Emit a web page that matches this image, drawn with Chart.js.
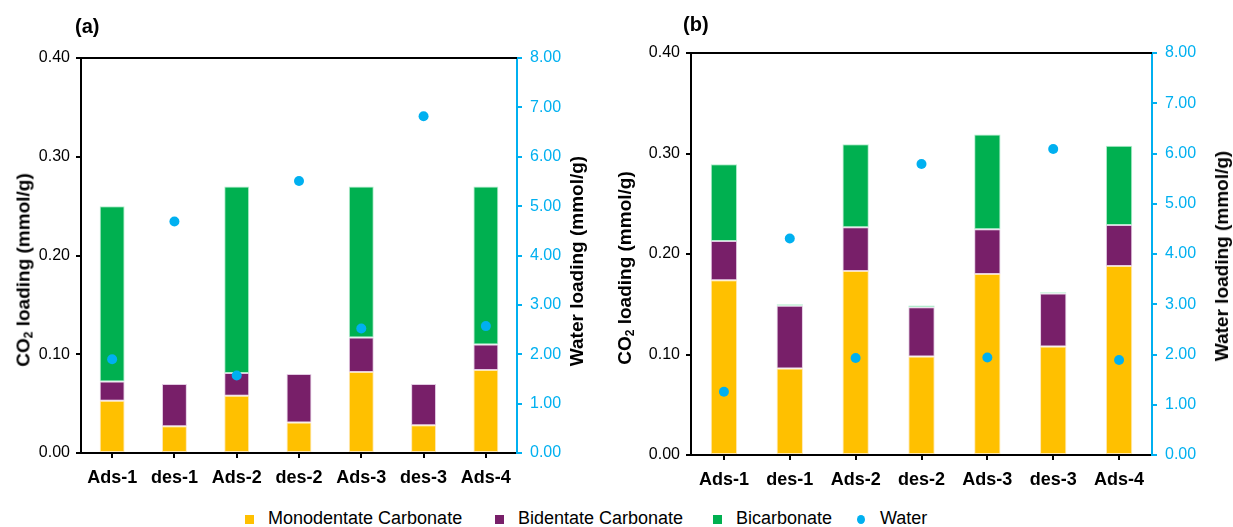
<!DOCTYPE html>
<html>
<head>
<meta charset="utf-8">
<script src="https://cdn.jsdelivr.net/npm/chart.js@4.4.0/dist/chart.umd.min.js"></script>
<style>
  html, body { margin: 0; padding: 0; background: #fff; }
  body { width: 1233px; height: 527px; position: relative; overflow: hidden; font-family: "Liberation Sans", Arial, sans-serif; }
  canvas { position: absolute; top: 0; }
  .lbl { position: absolute; font-weight: bold; color: #000; white-space: nowrap; }
  .rot { position: absolute; font-weight: bold; font-size: 19px; color: #000; white-space: nowrap; transform: translate(-50%, -50%) rotate(-90deg); }
  .rot sub { font-size: 12px; vertical-align: -3px; }
  #legend { position: absolute; top: 507px; left: 0; width: 1233px; height: 22px; font-size: 18px; color: #000; }
  .li { position: absolute; top: 0; line-height: 22px; white-space: nowrap; }
  .sw { position: absolute; width: 9px; height: 9px; top: 8px; }
</style>
</head>
<body>
<canvas id="ca" width="610" height="500" style="left:0;width:610px;height:500px"></canvas>
<canvas id="cb" width="623" height="500" style="left:610px;width:623px;height:500px"></canvas>

<div class="lbl" style="left:75px;top:15px;font-size:20px">(a)</div>
<div class="lbl" style="left:683px;top:13px;font-size:20px">(b)</div>

<div class="rot" style="left:24px;top:270px">CO<sub>2</sub> loading (mmol/g)</div>
<div class="rot" style="left:577px;top:261px">Water loading (mmol/g)</div>
<div class="rot" style="left:625px;top:268px">CO<sub>2</sub> loading (mmol/g)</div>
<div class="rot" style="left:1222px;top:256px">Water loading (mmol/g)</div>

<div id="legend"></div>

<script>
// ---- data ----
const categories = ['Ads-1', 'des-1', 'Ads-2', 'des-2', 'Ads-3', 'des-3', 'Ads-4'];

const a_mono   = [0.053, 0.027, 0.058, 0.031, 0.082, 0.028, 0.084];
const a_bi     = [0.0195, 0.043, 0.023, 0.049, 0.035, 0.042, 0.026];
const a_bicarb = [0.1775, 0, 0.189, 0, 0.153, 0, 0.160];
const a_water  = [1.90, 4.69, 1.57, 5.51, 2.52, 6.82, 2.57];

const b_mono   = [0.174, 0.086, 0.183, 0.098, 0.180, 0.108, 0.188];
const b_bi     = [0.039, 0.0625, 0.0436, 0.049, 0.0446, 0.0528, 0.0409];
const b_bicarb = [0.0764, 0.0015, 0.0827, 0.0018, 0.0944, 0.0012, 0.0787];
const b_water  = [1.26, 4.31, 1.93, 5.79, 1.94, 6.09, 1.89];

const seriesNames = ['Monodentate Carbonate', 'Bidentate Carbonate', 'Bicarbonate', 'Water'];
const leftTicks = [0, 0.1, 0.2, 0.3, 0.4];
const rightTicks = [0, 1, 2, 3, 4, 5, 6, 7, 8];

// ---- styles ----
const C_MONO = '#FFC000', C_BI = '#781F69', C_BIC = '#00B050', C_WAT = '#00B0F0';
const FONT = '"Liberation Sans", Arial, sans-serif';

const topBorder = {
  id: 'topBorder',
  afterDraw(chart) {
    const a = chart.chartArea, ctx = chart.ctx;
    ctx.save();
    ctx.strokeStyle = '#000';
    ctx.lineWidth = 2;
    ctx.beginPath();
    ctx.moveTo(a.left, a.top);
    ctx.lineTo(a.right, a.top);
    ctx.stroke();
    ctx.restore();
  }
};

function makeChart(id, mono, bi, bicarb, water, geo) {
  const bar = (label, data, color, edge) => ({
    type: 'bar', label, data, backgroundColor: color,
    borderColor: edge, borderWidth: 1, borderSkipped: false,
    barPercentage: 0.4, categoryPercentage: 1.0, yAxisID: 'y', order: 2
  });
  return new Chart(document.getElementById(id), {
    data: {
      labels: categories,
      datasets: [
        bar(seriesNames[0], mono, C_MONO, 'rgba(255,230,170,0.9)'),
        bar(seriesNames[1], bi, C_BI, 'rgba(220,190,220,0.8)'),
        bar(seriesNames[2], bicarb, C_BIC, 'rgba(170,235,200,0.9)'),
        {
          type: 'line', label: seriesNames[3], data: water, yAxisID: 'y2',
          showLine: false, pointRadius: 5, pointHoverRadius: 5,
          pointBackgroundColor: C_WAT, pointBorderColor: C_WAT, pointBorderWidth: 0,
          order: 0
        }
      ]
    },
    options: {
      responsive: false,
      animation: false,
      events: [],
      layout: { padding: { top: geo.top, left: 0, right: 0, bottom: 0 } },
      plugins: { legend: { display: false }, tooltip: { enabled: false }, title: { display: false } },
      scales: {
        x: {
          type: 'category', stacked: true, offset: true,
          grid: { display: true, drawOnChartArea: false, drawTicks: true, tickLength: 5, color: '#000', lineWidth: 2, offset: false },
          border: { display: true, color: '#000', width: 2 },
          ticks: { color: '#000', font: { family: FONT, size: 18, weight: 'bold' }, padding: 9, maxRotation: 0, autoSkip: false },
          afterFit: s => { s.height = geo.xh; }
        },
        y: {
          type: 'linear', position: 'left', stacked: true, min: 0, max: 0.4,
          afterBuildTicks: s => { s.ticks = leftTicks.map(v => ({ value: v })); },
          grid: { display: true, drawOnChartArea: false, drawTicks: true, tickLength: 5, color: '#000', lineWidth: 2 },
          border: { display: true, color: '#000', width: 2 },
          ticks: { color: '#000', font: { family: FONT, size: 16 }, padding: 6, callback: v => Number(v).toFixed(2) },
          afterFit: s => { s.width = geo.yw; }
        },
        y2: {
          type: 'linear', position: 'right', stacked: false, min: 0, max: 8,
          afterBuildTicks: s => { s.ticks = rightTicks.map(v => ({ value: v })); },
          grid: { display: true, drawOnChartArea: false, drawTicks: true, tickLength: 5, color: C_WAT, lineWidth: 2 },
          border: { display: true, color: C_WAT, width: 2 },
          ticks: { color: C_WAT, font: { family: FONT, size: 16 }, padding: 8, callback: v => Number(v).toFixed(2) },
          afterFit: s => { s.width = geo.y2w; }
        }
      }
    },
    plugins: [topBorder]
  });
}

makeChart('ca', a_mono, a_bi, a_bicarb, a_water, { top: 58, xh: 47, yw: 81, y2w: 93 });
makeChart('cb', b_mono, b_bi, b_bicarb, b_water, { top: 53, xh: 45, yw: 81, y2w: 81 });

// ---- HTML legend (real text) ----
const legendItems = [
  { name: seriesNames[0], color: C_MONO, x: 245, round: false },
  { name: seriesNames[1], color: C_BI, x: 495, round: false },
  { name: seriesNames[2], color: C_BIC, x: 713, round: false },
  { name: seriesNames[3], color: C_WAT, x: 857, round: true }
];
const lg = document.getElementById('legend');
legendItems.forEach(it => {
  const sw = document.createElement('div');
  sw.className = 'sw';
  sw.style.left = it.x + 'px';
  sw.style.background = it.color;
  if (it.round) { sw.style.borderRadius = '50%'; sw.style.width = '8px'; sw.style.height = '9px'; }
  lg.appendChild(sw);
  const t = document.createElement('div');
  t.className = 'li';
  t.style.left = (it.x + 23) + 'px';
  t.textContent = it.name;
  lg.appendChild(t);
});
</script>
</body>
</html>
